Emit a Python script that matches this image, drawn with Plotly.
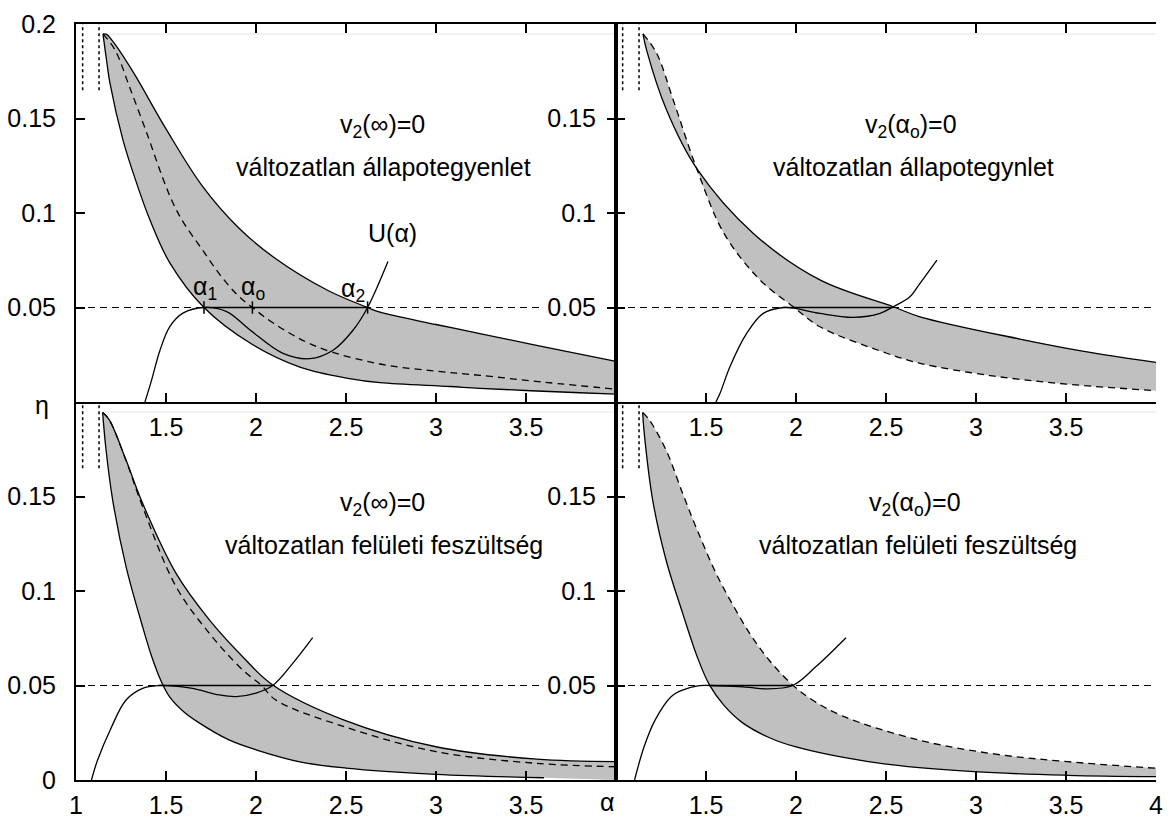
import plotly.graph_objects as go

# ---------------- data ----------------
ETA_LEVEL = 0.05                 # horizontal reference line
DOT_ALPHA = [1.037, 1.128]       # dotted vertical markers
DOT_ETA = [0.165, 0.2]
TOP_EDGE_ETA = 0.1947            # faint line at the top of the shaded region
TOP_EDGE_ALPHA = [1.15, 4.0]

# Top-left: v2(inf)=0, unchanged equation of state
tl_up_a = [1.15, 1.17, 1.207, 1.318, 1.5, 1.7, 1.9, 2.1, 2.4, 2.62, 2.689, 3.0, 3.244, 3.6, 4.0]
tl_up_e = [0.1948, 0.1945, 0.1905, 0.1745, 0.1445, 0.1145, 0.0925, 0.0765, 0.059, 0.050, 0.0475, 0.041, 0.0362, 0.0292, 0.0215]
tl_lo_a = [1.15, 1.167, 1.189, 1.261, 1.336, 1.411, 1.522, 1.711, 1.967, 2.244, 2.52, 2.689, 3.078, 3.244, 3.8, 4.0]
tl_lo_e = [0.1948, 0.1827, 0.1686, 0.1386, 0.1160, 0.0963, 0.0735, 0.050, 0.0312, 0.0185, 0.0124, 0.0102, 0.0082, 0.0072, 0.0049, 0.0042]
tl_da_a = [1.15, 1.217, 1.3, 1.4, 1.48, 1.54, 1.6, 1.7, 1.8, 1.9, 1.98, 2.1, 2.337, 2.689, 3.0, 3.244, 3.6, 4.0]
tl_da_e = [0.1948, 0.1862, 0.166, 0.1405, 0.1190, 0.1050, 0.0945, 0.0808, 0.0673, 0.0563, 0.050, 0.0415, 0.0293, 0.0201, 0.0163, 0.0141, 0.0105, 0.0068]
tl_u_a = [1.383, 1.42, 1.467, 1.522, 1.594, 1.711, 1.837, 1.967, 2.15, 2.30, 2.43, 2.54, 2.62, 2.733]
tl_u_e = [0.0, 0.0116, 0.0275, 0.040, 0.047, 0.050, 0.0478, 0.0381, 0.0257, 0.0229, 0.0275, 0.0381, 0.050, 0.0743]
tl_marks = [1.711, 1.98, 2.62]          # alpha1, alpha_o, alpha2
tl_maxwell = [1.711, 2.62]

# Top-right: v2(alpha_o)=0, unchanged equation of state
tr_so_a = [1.15, 1.17, 1.281, 1.448, 1.763, 2.133, 2.54, 2.689, 3.244, 3.6, 4.0]
tr_so_e = [0.1948, 0.1862, 0.1545, 0.1236, 0.0892, 0.0646, 0.0504, 0.0451, 0.0333, 0.0268, 0.021]
tr_da_a = [1.15, 1.226, 1.318, 1.448, 1.6, 1.80, 1.985, 2.133, 2.504, 2.689, 3.078, 3.5, 4.0]
tr_da_e = [0.1948, 0.1845, 0.1598, 0.1236, 0.0892, 0.0646, 0.0504, 0.0398, 0.0258, 0.0205, 0.0140, 0.0095, 0.006]
tr_u_a = [1.555, 1.578, 1.633, 1.726, 1.818, 1.93, 1.985, 2.133, 2.318, 2.467, 2.54, 2.633, 2.689, 2.783]
tr_u_e = [0.0, 0.0046, 0.0187, 0.0363, 0.0469, 0.050, 0.0497, 0.0469, 0.0448, 0.0469, 0.0504, 0.0557, 0.0628, 0.0751]
tr_maxwell = [1.93, 2.54]

# Bottom-left: v2(inf)=0, unchanged surface tension
bl_lo_a = [1.148, 1.167, 1.204, 1.278, 1.37, 1.42, 1.472, 1.52, 1.6, 1.68, 1.85, 2.0, 2.25, 2.5, 3.0, 3.6]
bl_lo_e = [0.1944, 0.1746, 0.148, 0.1129, 0.0811, 0.0655, 0.0525, 0.0440, 0.0360, 0.0305, 0.0212, 0.016, 0.0095, 0.0063, 0.003, 0.0012]
bl_fill_tail_a = [4.0]           # shaded region continues to the axis
bl_fill_tail_e = [0.0]
bl_up_a = [1.148, 1.185, 1.278, 1.37, 1.556, 1.741, 1.926, 2.093, 2.49, 3.0, 3.56, 4.0]
bl_up_e = [0.1944, 0.1905, 0.1693, 0.1464, 0.1093, 0.0847, 0.0652, 0.0503, 0.0317, 0.0176, 0.011, 0.0097]
bl_da_a = [1.148, 1.185, 1.278, 1.37, 1.556, 1.741, 1.926, 2.028, 2.11, 2.49, 3.0, 3.56, 4.0]
bl_da_e = [0.1944, 0.1905, 0.169, 0.1446, 0.1023, 0.0776, 0.0582, 0.0503, 0.0423, 0.0282, 0.015, 0.0088, 0.007]
bl_u_a = [1.086, 1.12, 1.19, 1.278, 1.37, 1.46, 1.55, 1.648, 1.796, 1.889, 2.0, 2.093, 2.204, 2.315]
bl_u_e = [0.0, 0.0106, 0.0265, 0.0423, 0.0485, 0.050, 0.0497, 0.0485, 0.045, 0.0441, 0.046, 0.050, 0.0617, 0.0753]
bl_maxwell = [1.46, 2.093]

# Bottom-right: v2(alpha_o)=0, unchanged surface tension
br_so_a = [1.148, 1.157, 1.204, 1.278, 1.37, 1.45, 1.519, 1.6, 1.7, 1.85, 2.0, 2.47, 2.99, 3.51, 4.0]
br_so_e = [0.1944, 0.1834, 0.148, 0.1164, 0.0883, 0.0655, 0.0503, 0.0395, 0.0305, 0.0225, 0.0175, 0.0088, 0.0044, 0.0025, 0.0018]
br_da_a = [1.148, 1.185, 1.278, 1.37, 1.45, 1.556, 1.65, 1.75, 1.85, 1.981, 2.1, 2.26, 2.68, 3.1, 3.51, 4.0]
br_da_e = [0.1944, 0.1905, 0.1746, 0.1517, 0.1325, 0.1093, 0.0925, 0.0765, 0.0635, 0.0503, 0.0418, 0.0338, 0.0212, 0.0138, 0.0097, 0.0062]
br_u_a = [1.103, 1.156, 1.217, 1.306, 1.37, 1.463, 1.52, 1.62, 1.741, 1.833, 1.981, 2.111, 2.278]
br_u_e = [0.0, 0.0176, 0.0317, 0.0441, 0.0476, 0.0499, 0.050, 0.0497, 0.049, 0.0482, 0.050, 0.060, 0.0753]
br_maxwell = [1.52, 1.981]

X_RANGE = [1, 4]
Y_RANGE = [0, 0.2]

# ---------------- figure ----------------
FONT = "Liberation Sans, Arial, Helvetica, sans-serif"
FS = 25
FILL = "#c0c0c0"
DASH = "7px,5px"
fig = go.Figure()


def line(xa, ya, x, y, dash=None, width=1.3, color="black", shape="spline"):
    fig.add_trace(go.Scatter(x=x, y=y, xaxis=xa, yaxis=ya, mode="lines",
                             line=dict(color=color, width=width, dash=dash, shape=shape),
                             hoverinfo="skip", showlegend=False))


def band(xa, ya, a1, e1, a2, e2):
    # first boundary (invisible), then second boundary filled to it
    fig.add_trace(go.Scatter(x=a2, y=e2, xaxis=xa, yaxis=ya, mode="lines",
                             line=dict(width=0, color=FILL, shape="spline"),
                             hoverinfo="skip", showlegend=False))
    fig.add_trace(go.Scatter(x=a1, y=e1, xaxis=xa, yaxis=ya, mode="lines", fill="tonexty",
                             fillcolor=FILL, line=dict(width=0, color=FILL, shape="spline"),
                             hoverinfo="skip", showlegend=False))


panels = [
    ("x", "y", (tl_up_a, tl_up_e), (tl_lo_a, tl_lo_e),
     [(tl_up_a, tl_up_e, None), (tl_lo_a, tl_lo_e, None), (tl_da_a, tl_da_e, DASH)],
     (tl_u_a, tl_u_e), tl_maxwell, 3.594),
    ("x2", "y2", (tr_so_a, tr_so_e), (tr_da_a, tr_da_e),
     [(tr_so_a, tr_so_e, None), (tr_da_a, tr_da_e, DASH)],
     (tr_u_a, tr_u_e), tr_maxwell, 4.0),
    ("x3", "y3", (bl_up_a, bl_up_e), (bl_lo_a + bl_fill_tail_a, bl_lo_e + bl_fill_tail_e),
     [(bl_up_a, bl_up_e, None), (bl_lo_a, bl_lo_e, None), (bl_da_a, bl_da_e, DASH)],
     (bl_u_a, bl_u_e), bl_maxwell, 3.594),
    ("x4", "y4", (br_da_a, br_da_e), (br_so_a, br_so_e),
     [(br_so_a, br_so_e, None), (br_da_a, br_da_e, DASH)],
     (br_u_a, br_u_e), br_maxwell, 4.0),
]

for xa, ya, b1, b2, curves, ucurve, maxwell, hline_end in panels:
    band(xa, ya, b1[0], b1[1], b2[0], b2[1])
    line(xa, ya, TOP_EDGE_ALPHA, [TOP_EDGE_ETA] * 2, width=1, color="#e4e4e4", shape="linear")
    for da in DOT_ALPHA:
        line(xa, ya, [da, da], DOT_ETA, dash="dot", width=1.5, shape="linear")
    line(xa, ya, [X_RANGE[0], hline_end], [ETA_LEVEL] * 2, dash=DASH, width=1.2, shape="linear")
    line(xa, ya, maxwell, [ETA_LEVEL] * 2, width=1.5, shape="linear")
    for a, e, d in curves:
        line(xa, ya, a, e, dash=d)
    line(xa, ya, ucurve[0], ucurve[1])

# alpha1, alpha_o, alpha2 tick marks on the Maxwell line
for m in tl_marks:
    line("x", "y", [m, m], [ETA_LEVEL - 0.0033, ETA_LEVEL + 0.0033], width=1.5, shape="linear")

axis_common = dict(showline=True, linecolor="black", linewidth=2, ticks="inside", ticklen=9,
                   tickwidth=1.5, tickcolor="black", showgrid=False, zeroline=False,
                   automargin=False, fixedrange=True,
                   tickfont=dict(family=FONT, size=FS, color="black"))


def ticks(vals):
    return dict(tickmode="array", tickvals=vals, ticktext=[f"{v:g}" for v in vals])


XS, YS = 2, 13
fig.update_layout(
    width=1168, height=818, paper_bgcolor="white", plot_bgcolor="white",
    margin=dict(l=76, r=12, t=24, b=38, autoexpand=False), showlegend=False,
    font=dict(family=FONT, color="black"),
    xaxis=dict(domain=[0, 0.5], anchor="y", range=X_RANGE, mirror="ticks",
               ticklabelstandoff=XS, **ticks([1.5, 2, 2.5, 3, 3.5]), **axis_common),
    yaxis=dict(domain=[0.5, 1], anchor="x", range=Y_RANGE, mirror="ticks",
               ticklabelstandoff=YS, **ticks([0.05, 0.1, 0.15, 0.2]), **axis_common),
    xaxis2=dict(domain=[0.5, 1], anchor="y2", range=X_RANGE, mirror="ticks",
                ticklabelstandoff=XS, **ticks([1.5, 2, 2.5, 3, 3.5]), **axis_common),
    yaxis2=dict(domain=[0.5, 1], anchor="x2", range=Y_RANGE,
                ticklabelstandoff=YS, **ticks([0.05, 0.1, 0.15]), **axis_common),
    xaxis3=dict(domain=[0, 0.5], anchor="y3", range=X_RANGE,
                ticklabelstandoff=XS, **ticks([1, 1.5, 2, 2.5, 3, 3.5]), **axis_common),
    yaxis3=dict(domain=[0, 0.5], anchor="x3", range=Y_RANGE, mirror="ticks",
                ticklabelstandoff=YS, **ticks([0, 0.05, 0.1, 0.15]), **axis_common),
    xaxis4=dict(domain=[0.5, 1], anchor="y4", range=X_RANGE,
                ticklabelstandoff=XS, **ticks([1.5, 2, 2.5, 3, 3.5, 4]), **axis_common),
    yaxis4=dict(domain=[0, 0.5], anchor="x4", range=Y_RANGE,
                ticklabelstandoff=YS, **ticks([0.05, 0.1, 0.15]), **axis_common),
)


def label(xa, ya, x, y, text, size=FS):
    fig.add_annotation(xref=xa, yref=ya, x=x, y=y, text=text, showarrow=False,
                       font=dict(family=FONT, size=size, color="black"),
                       xanchor="center", yanchor="middle")


label("x", "y", 2.70, 0.146, "v<sub>2</sub>(∞)=0")
label("x", "y", 2.71, 0.1243, "változatlan állapotegyenlet")
label("x2", "y2", 2.64, 0.146, "v<sub>2</sub>(α<sub>o</sub>)=0")
label("x2", "y2", 2.65, 0.1243, "változatlan állapotegynlet")
label("x3", "y3", 2.70, 0.146, "v<sub>2</sub>(∞)=0")
label("x3", "y3", 2.71, 0.1243, "változatlan felületi feszültség")
label("x4", "y4", 2.66, 0.146, "v<sub>2</sub>(α<sub>o</sub>)=0")
label("x4", "y4", 2.68, 0.1243, "változatlan felületi feszültség")
label("x", "y", 2.756, 0.0894, "U(α)")
label("x", "y", 1.717, 0.0603, "α<sub>1</sub>")
label("x", "y", 1.983, 0.0603, "α<sub>o</sub>")
label("x", "y", 2.539, 0.0593, "α<sub>2</sub>")

fig.add_annotation(xref="paper", yref="paper", x=-0.0315, y=0.496, text="η", showarrow=False,
                   xanchor="center", yanchor="middle",
                   font=dict(family=FONT, size=FS, color="black"))
fig.add_annotation(xref="paper", yref="paper", x=0.4917, y=-0.029, text="α", showarrow=False,
                   xanchor="center", yanchor="middle",
                   font=dict(family=FONT, size=FS, color="black"))

fig.write_html("out.html", config={"displayModeBar": False},
               post_script="document.body.style.margin='0px';document.body.style.padding='0px';")
